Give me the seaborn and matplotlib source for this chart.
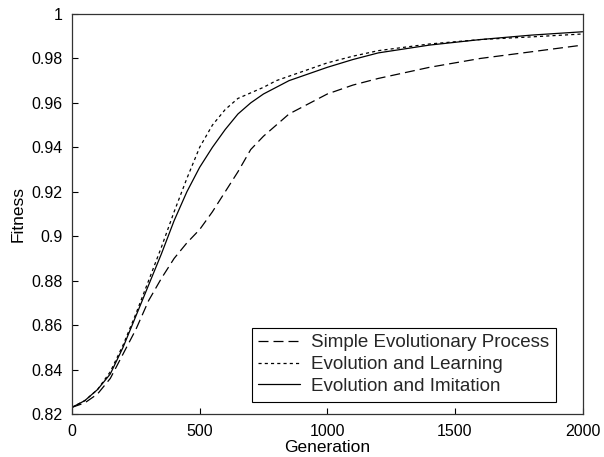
import matplotlib
matplotlib.use('Agg')
import numpy as np
import pandas as pd
import seaborn as sns
import matplotlib.pyplot as plt

OUTPUT_FILE = 'out.png'

# values
generation = [0, 50, 100, 150, 200, 250, 300, 350, 400, 450, 500, 550, 600,
              650, 700, 750, 800, 850, 900, 950, 1000, 1100, 1200, 1400,
              1600, 1800, 2000]
simple_evo = [0.823, 0.825, 0.829, 0.836, 0.847, 0.858, 0.871, 0.881, 0.890,
              0.897, 0.903, 0.911, 0.920, 0.929, 0.939, 0.945, 0.950, 0.955,
              0.958, 0.961, 0.964, 0.968, 0.971, 0.976, 0.980, 0.983, 0.986]
evo_learning = [0.823, 0.826, 0.831, 0.839, 0.851, 0.865, 0.880, 0.895, 0.911,
                0.926, 0.940, 0.950, 0.957, 0.962, 0.9645, 0.967, 0.970, 0.972,
                0.974, 0.976, 0.978, 0.981, 0.9835, 0.9865, 0.9885, 0.9897,
                0.991]
evo_imitation = [0.823, 0.826, 0.831, 0.838, 0.850, 0.864, 0.878, 0.892, 0.907,
                 0.920, 0.931, 0.940, 0.948, 0.955, 0.960, 0.964, 0.967, 0.970,
                 0.972, 0.974, 0.976, 0.9795, 0.9825, 0.986, 0.9885, 0.9905,
                 0.992]
series_names = ['Simple Evolutionary Process', 'Evolution and Learning',
                'Evolution and Imitation']
x_ticks = [0, 500, 1000, 1500, 2000]
y_ticks = [0.82, 0.84, 0.86, 0.88, 0.9, 0.92, 0.94, 0.96, 0.98, 1.0]
y_tick_labels = ['0.82', '0.84', '0.86', '0.88', '0.9', '0.92', '0.94',
                 '0.96', '0.98', '1']

data = pd.DataFrame({
    'Generation': generation * 3,
    'Fitness': simple_evo + evo_learning + evo_imitation,
    'series': [series_names[0]] * len(generation)
              + [series_names[1]] * len(generation)
              + [series_names[2]] * len(generation),
})

sns.set_style('white')
plt.rcParams['font.family'] = ['Liberation Sans', 'DejaVu Sans']

fig = plt.figure(figsize=(6.04, 4.57), dpi=100)
ax = fig.add_axes([0.1192, 0.0941, 0.8454, 0.8753])

dashes = {series_names[0]: (8, 4), series_names[1]: (2.5, 2.5), series_names[2]: ''}
g = sns.lineplot(data=data, x='Generation', y='Fitness', style='series',
                 dashes=dashes, color='black', linewidth=0.9, ax=ax)

g.set_xlim(0, 2000)
g.set_ylim(0.82, 1)
g.set_xticks(x_ticks)
g.set_xticklabels([str(t) for t in x_ticks])
g.set_yticks(y_ticks)
g.set_yticklabels(y_tick_labels)
g.tick_params(direction='in', length=4, width=0.8, bottom=True, left=True,
              labelsize=11.5, colors='black', pad=7)
g.set_xlabel('Generation', fontsize=12.5, labelpad=1, color='black')
g.set_ylabel('Fitness', fontsize=12.5, labelpad=4, color='black')
for s in g.spines.values():
    s.set_color('#333333')
    s.set_linewidth(0.9)

handles, labels = g.get_legend_handles_labels()
keep = [(h, l) for h, l in zip(handles, labels) if l in series_names]
leg = g.legend([h for h, _ in keep], [l for _, l in keep], loc='lower right',
               bbox_to_anchor=(0.947, 0.031), borderaxespad=0, fancybox=False,
               edgecolor='black', framealpha=1, fontsize=13.5, handlelength=2.2,
               handletextpad=0.6, labelspacing=0.25, borderpad=0.35)
leg.get_frame().set_linewidth(0.8)

fig.savefig(OUTPUT_FILE, dpi=100)
